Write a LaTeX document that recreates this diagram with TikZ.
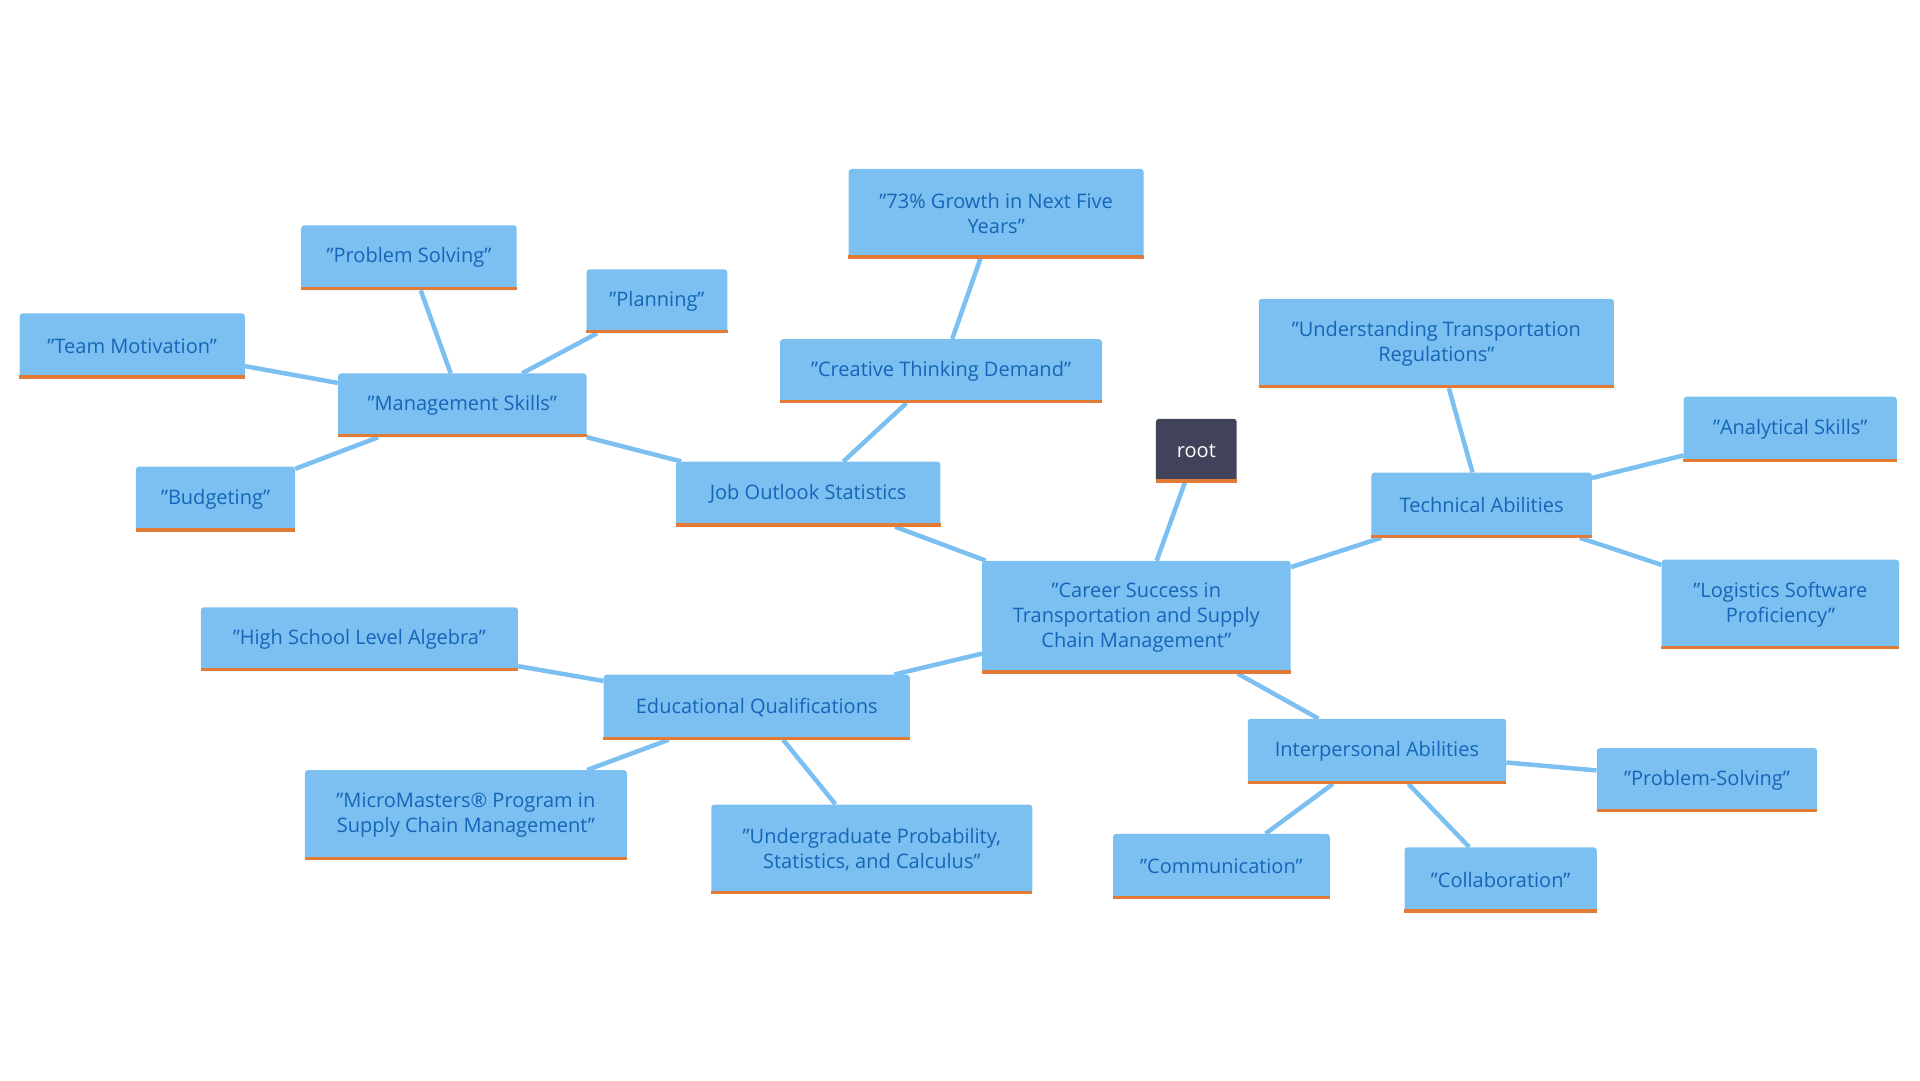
\documentclass[tikz,border=0pt]{standalone}
\usepackage{fontspec}
\setmainfont{Open Sans}
\usetikzlibrary{backgrounds}
\definecolor{bfill}{HTML}{7CC0F1}
\definecolor{btext}{HTML}{1565B8}
\definecolor{bor}{HTML}{E27B36}
\definecolor{rootc}{HTML}{40435A}
\tikzset{
  box/.style={fill=bfill, text=btext, rounded corners=3pt, inner sep=0pt, align=center,
    font=\fontsize{20}{25}\selectfont,
    append after command={\pgfextra{\let\mynode\tikzlastnode}
      ([yshift=1.6pt]\mynode.south west) edge[draw=bor, line width=3.3pt] ([yshift=1.6pt]\mynode.south east)}},
  rootbox/.style={box, fill=rootc, text=white},
  conn/.style={draw=bfill, line width=4.5pt}
}
\newcommand{\bx}[7][box]{\node[#1, minimum width={(#5-#3)*1.2245pt}, minimum height={(#6-#4)*1.2245pt}] (#2) at ({(#3+#5)/2},{(#4+#6)/2}) {#7};}
\begin{document}
\begin{tikzpicture}[x=1.2245pt,y=-1.2245pt]
\useasboundingbox (0,0) rectangle (1568,882);
\bx{c}{802}{458}{1054}{550}{"Career Success in\\Transportation and Supply\\Chain Management"}
\bx[rootbox]{root}{944}{342}{1010}{394}{root}
\bx{job}{552}{377}{768}{430}{Job Outlook Statistics}
\bx{cre}{637}{277}{900}{329}{"Creative Thinking Demand"}
\bx{gro}{693}{138}{934}{211}{"73\% Growth in Next Five\\Years"}
\bx{man}{276}{305}{479}{357}{"Management Skills"}
\bx{ps}{246}{184}{422}{237}{"Problem Solving"}
\bx{pl}{479}{220}{594}{272}{"Planning"}
\bx{tm}{16}{256}{200}{309}{"Team Motivation"}
\bx{bud}{111}{381}{241}{434}{"Budgeting"}
\bx{edu}{493}{551}{743}{604}{Educational Qualifications}
\bx{alg}{164}{496}{423}{548}{"High School Level Algebra"}
\bx{mm}{249}{629}{512}{702}{"MicroMasters® Program in\\Supply Chain Management"}
\bx{ug}{581}{657}{843}{730}{"Undergraduate Probability,\\Statistics, and Calculus"}
\bx{tech}{1120}{386}{1300}{439}{Technical Abilities}
\bx{utr}{1028}{244}{1318}{317}{"Understanding Transportation\\Regulations"}
\bx{an}{1375}{324}{1549}{377}{"Analytical Skills"}
\bx{log}{1357}{457}{1551}{530}{"Logistics Software\\Proficiency"}
\bx{inter}{1019}{587}{1230}{640}{Interpersonal Abilities}
\bx{prs}{1304}{611}{1484}{663}{"Problem-Solving"}
\bx{com}{909}{681}{1086}{734}{"Communication"}
\bx{col}{1147}{692}{1304}{745}{"Collaboration"}
\begin{pgfonlayer}{background}
\draw[conn] (root) -- (c);
\draw[conn] (c) -- (job);
\draw[conn] (c) -- (edu);
\draw[conn] (c) -- (tech);
\draw[conn] (c) -- (inter);
\draw[conn] (job) -- (cre);
\draw[conn] (cre) -- (gro);
\draw[conn] (job) -- (man);
\draw[conn] (man) -- (ps);
\draw[conn] (man) -- (pl);
\draw[conn] (man) -- (tm);
\draw[conn] (man) -- (bud);
\draw[conn] (edu) -- (alg);
\draw[conn] (edu) -- (mm);
\draw[conn] (edu) -- (ug);
\draw[conn] (tech) -- (utr);
\draw[conn] (tech) -- (an);
\draw[conn] (tech) -- (log);
\draw[conn] (inter) -- (prs);
\draw[conn] (inter) -- (com);
\draw[conn] (inter) -- (col);
\end{pgfonlayer}
\end{tikzpicture}
\end{document}
